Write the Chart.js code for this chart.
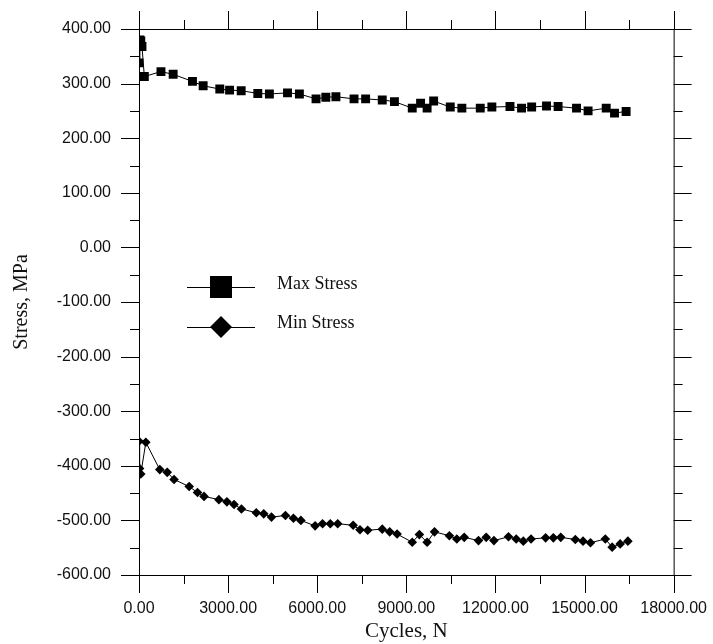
<!DOCTYPE html>
<html>
<head>
<meta charset="utf-8">
<script src="https://cdn.jsdelivr.net/npm/chart.js@4"></script>
<style>
  html, body { margin: 0; padding: 0; background: #fff; }
  #wrap { width: 713px; height: 644px; }
</style>
</head>
<body>
<div id="wrap"><canvas id="chart" width="713" height="644"></canvas></div>
<script>
// cycles / stress
const maxCycles = [0, 30, 60, 100, 180, 740, 1150, 1800, 2160, 2720, 3050, 3440, 4000, 4390, 5000, 5400, 5960, 6290, 6630, 7240, 7630, 8190, 8600, 9200, 9480, 9700, 9920, 10480, 10870, 11490, 11880, 12490, 12880, 13220, 13720, 14110, 14730, 15120, 15730, 16010, 16400];
const maxStress = [338, 380, 378, 368, 313, 322, 317, 304, 296, 290, 288, 287, 282, 281, 283, 281, 272, 275, 276, 272, 272, 270, 267, 255, 264, 255, 268, 257, 255, 255, 257, 258, 255, 257, 259, 258, 255, 250, 255, 246, 249];

const minCycles = [0, 20, 60, 230, 700, 950, 1180, 1690, 1970, 2190, 2690, 2960, 3200, 3450, 3950, 4200, 4460, 4930, 5200, 5450, 5930, 6180, 6440, 6690, 7210, 7440, 7700, 8190, 8440, 8690, 9200, 9440, 9700, 9950, 10450, 10700, 10950, 11430, 11690, 11950, 12440, 12700, 12940, 13200, 13690, 13950, 14200, 14690, 14950, 15200, 15700, 15930, 16200, 16460];
const minStress = [-355, -405, -415, -357, -407, -412, -425, -438, -449, -456, -462, -466, -471, -479, -486, -488, -494, -491, -496, -500, -510, -506, -506, -506, -509, -517, -518, -516, -521, -525, -540, -526, -540, -521, -528, -534, -531, -537, -531, -537, -530, -534, -538, -534, -532, -532, -531, -535, -538, -541, -534, -549, -543, -538];

const seriesNames = ['Max Stress', 'Min Stress'];
const xTitle = 'Cycles, N';
const yTitle = 'Stress, MPa';

const toPoints = (xs, ys) => xs.map((x, i) => ({ x, y: ys[i] }));

const MAJOR = 18, MINOR = 9;
const sansFont = '"Liberation Sans", Arial, sans-serif';
const serifFont = '"Liberation Serif", "Times New Roman", serif';

// frame + outward ticks on all four sides, like the original plot
const framePlugin = {
  id: 'frame',
  afterDraw(chart) {
    const { ctx, chartArea: a, scales: { x, y } } = chart;
    ctx.save();
    ctx.strokeStyle = '#000';
    ctx.lineWidth = 1;
    ctx.strokeRect(a.left + 0.5, a.top + 0.5, a.right - a.left, a.bottom - a.top);
    ctx.beginPath();
    for (let v = 0; v <= 18000; v += 1500) {
      const px = Math.round(x.getPixelForValue(v)) + 0.5;
      const len = v % 3000 === 0 ? MAJOR : MINOR;
      ctx.moveTo(px, a.bottom); ctx.lineTo(px, a.bottom + len);
      ctx.moveTo(px, a.top); ctx.lineTo(px, a.top - len);
    }
    for (let v = -600; v <= 400; v += 50) {
      const py = Math.round(y.getPixelForValue(v)) + 0.5;
      const len = v % 100 === 0 ? MAJOR : MINOR;
      ctx.moveTo(a.left, py); ctx.lineTo(a.left - len, py);
      ctx.moveTo(a.right, py); ctx.lineTo(a.right + len, py);
    }
    ctx.stroke();
    ctx.restore();
  }
};

// legend drawn inside the plot area
const legendPlugin = {
  id: 'innerLegend',
  afterDraw(chart) {
    const { ctx } = chart;
    const rows = [{ y: 287, ty: 284 }, { y: 327, ty: 323 }];
    ctx.save();
    chart.data.datasets.forEach((ds, i) => {
      const r = rows[i];
      ctx.strokeStyle = '#000';
      ctx.lineWidth = 1;
      ctx.beginPath();
      ctx.moveTo(187, r.y + 0.5); ctx.lineTo(255, r.y + 0.5);
      ctx.stroke();
      ctx.fillStyle = '#000';
      ctx.beginPath();
      if (ds.pointStyle === 'rect') {
        ctx.rect(210, r.y - 11, 22, 22);
      } else {
        ctx.moveTo(221, r.y - 11); ctx.lineTo(232, r.y);
        ctx.lineTo(221, r.y + 11); ctx.lineTo(210, r.y);
        ctx.closePath();
      }
      ctx.fill();
      ctx.font = '18px ' + serifFont;
      ctx.textBaseline = 'middle';
      ctx.fillStyle = '#111';
      ctx.fillText(ds.label, 277, r.ty);
    });
    ctx.restore();
  }
};

new Chart(document.getElementById('chart'), {
  type: 'scatter',
  data: {
    datasets: [
      {
        label: seriesNames[0],
        data: toPoints(maxCycles, maxStress),
        showLine: true,
        borderColor: '#000',
        borderWidth: 1,
        backgroundColor: '#000',
        pointStyle: 'rect',
        pointRadius: 6.3,
        pointBorderWidth: 0
      },
      {
        label: seriesNames[1],
        data: toPoints(minCycles, minStress),
        showLine: true,
        borderColor: '#000',
        borderWidth: 1,
        backgroundColor: '#000',
        pointStyle: 'rectRot',
        pointRadius: 4.8,
        pointBorderWidth: 0
      }
    ]
  },
  options: {
    responsive: false,
    animation: false,
    layout: { padding: { left: 0, right: 37, top: 29, bottom: 0 } },
    plugins: {
      legend: { display: false },
      tooltip: { enabled: false }
    },
    scales: {
      x: {
        type: 'linear',
        min: 0,
        max: 18000,
        afterFit: s => { s.height = 69; },
        afterBuildTicks: s => {
          s.ticks = [];
          for (let v = 0; v <= 18000; v += 3000) s.ticks.push({ value: v });
        },
        grid: { drawOnChartArea: false, tickLength: MAJOR, tickColor: 'transparent' },
        border: { display: false },
        ticks: {
          padding: 6,
          color: '#111',
          font: { family: sansFont, size: 16 },
          maxRotation: 0,
          callback: v => v.toFixed(2)
        },
        title: {
          display: true,
          text: xTitle,
          color: '#111',
          font: { family: serifFont, size: 21 },
          padding: { top: 0, bottom: 0 }
        }
      },
      y: {
        type: 'linear',
        min: -600,
        max: 400,
        afterFit: s => { s.width = 139; },
        afterBuildTicks: s => {
          s.ticks = [];
          for (let v = -600; v <= 400; v += 100) s.ticks.push({ value: v });
        },
        grid: { drawOnChartArea: false, tickLength: MAJOR, tickColor: 'transparent' },
        border: { display: false },
        ticks: {
          padding: 10,
          color: '#111',
          font: { family: sansFont, size: 16 },
          callback: v => v.toFixed(2)
        },
        title: {
          display: true,
          text: yTitle,
          color: '#111',
          font: { family: serifFont, size: 20 },
          padding: { top: 10, bottom: 4 }
        }
      }
    }
  },
  plugins: [framePlugin, legendPlugin]
});
</script>
</body>
</html>
